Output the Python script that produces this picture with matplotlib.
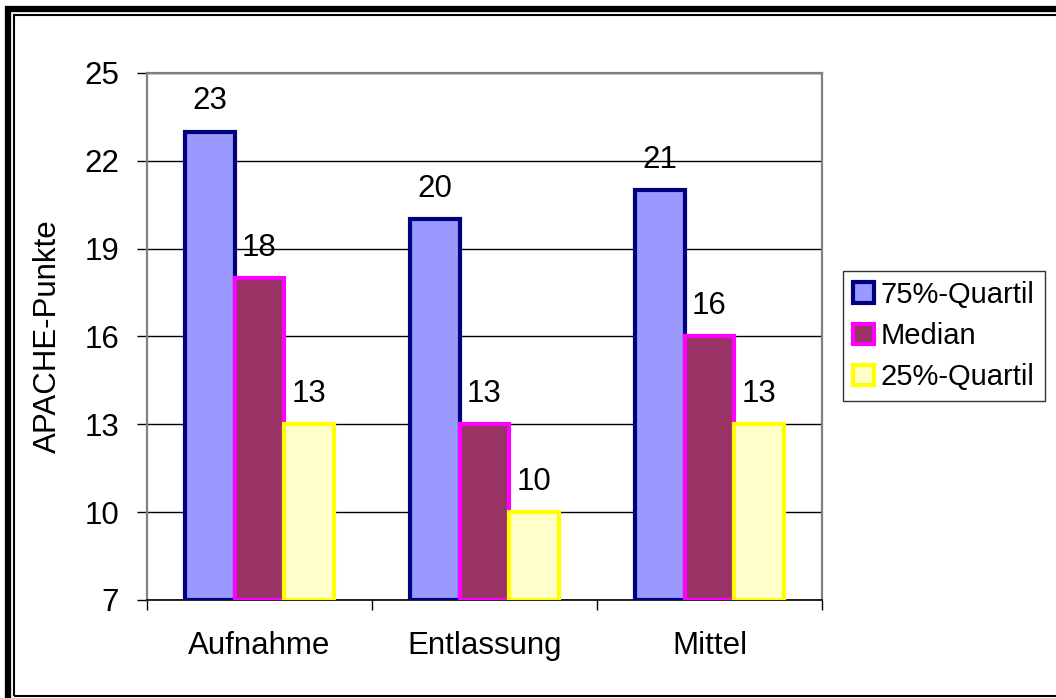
import matplotlib
matplotlib.use("Agg")
import matplotlib.pyplot as plt
import numpy as np
from matplotlib.patches import Rectangle

# data
categories = ["Aufnahme", "Entlassung", "Mittel"]
series_names = ["75%-Quartil", "Median", "25%-Quartil"]
q75_values = [23, 20, 21]
median_values = [18, 13, 16]
q25_values = [13, 10, 13]
y_ticks = [7, 10, 13, 16, 19, 22, 25]

face_colors = ["#9999FF", "#993366", "#FFFFCC"]
edge_colors = ["#000080", "#FF00FF", "#FFFF00"]

FS = 22.5
plt.rcParams["font.family"] = ["Liberation Sans", "DejaVu Sans"]
W, H = 1056, 698
fig = plt.figure(figsize=(W / 100, H / 100), dpi=100)
ax = fig.add_axes([147 / W, 1 - 600 / H, (822 - 147) / W, (600 - 73) / H])

x = np.arange(len(categories))
bar_w = 0.222
all_values = [q75_values, median_values, q25_values]
for i, vals in enumerate(all_values):
    pos = x + (i - 1) * bar_w
    ax.bar(pos, np.array(vals) - 7, bottom=7, width=bar_w,
           color=face_colors[i], edgecolor=edge_colors[i],
           linewidth=3.0, label=series_names[i], zorder=3)
    for p, v in zip(pos, vals):
        ax.annotate(str(v), (p, v), xytext=(0, 11), textcoords="offset points",
                    ha="center", va="bottom", fontsize=FS, zorder=4)

ax.set_ylim(7, 25)
ax.set_xlim(-0.5, 2.5)
ax.set_yticks(y_ticks)
ax.set_yticklabels([str(t) for t in y_ticks], fontsize=FS)
ax.yaxis.grid(True, color="black", linewidth=1.0, zorder=0)
ax.set_axisbelow(True)

# categories centered between boundary ticks
ax.set_xticks([-0.5, 0.5, 1.5, 2.5])
ax.set_xticklabels([])
ax.set_xticks(x, minor=True)
ax.set_xticklabels(categories, minor=True, fontsize=FS)
ax.tick_params(axis="x", which="minor", length=0, pad=22)
ax.tick_params(axis="x", which="major", length=7, width=1, direction="out")
ax.tick_params(axis="y", length=7, width=1, direction="out", pad=13)

for side in ["top", "right", "left"]:
    ax.spines[side].set_color("#808080")
    ax.spines[side].set_linewidth(1.6)
ax.spines["bottom"].set_color("black")
ax.spines["bottom"].set_linewidth(1.2)

ax.set_ylabel("APACHE-Punkte", fontsize=FS, labelpad=15)

leg = ax.legend(loc="center left", bbox_to_anchor=(843 / W, 1 - 336 / H),
                bbox_transform=fig.transFigure, fontsize=21, frameon=True,
                fancybox=False, edgecolor="black", handlelength=0.7,
                handleheight=0.7, handletextpad=0.25, borderpad=0.35,
                labelspacing=0.45, borderaxespad=0)
leg.get_frame().set_linewidth(1.0)

# double border around the chart
fig.add_artist(Rectangle((8 / W, -0.05), 1.1, 1 - 9 / H + 0.05,
                         transform=fig.transFigure, fill=False,
                         edgecolor="black", linewidth=4.5))
fig.add_artist(Rectangle((14 / W, 2 / H), 1.1, 1 - 17 / H,
                         transform=fig.transFigure, fill=False,
                         edgecolor="black", linewidth=1.5))

fig.savefig("out.png", dpi=100)
